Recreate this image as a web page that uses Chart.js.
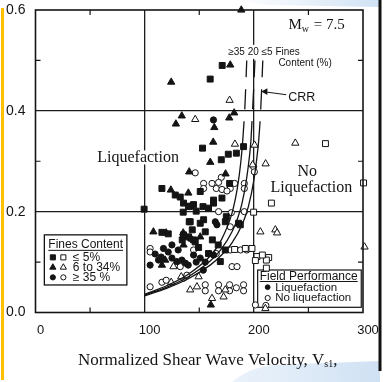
<!DOCTYPE html>
<html>
<head>
<meta charset="utf-8">
<script src="https://cdn.jsdelivr.net/npm/chart.js@4/dist/chart.umd.min.js"></script>
<style>
  html, body { margin: 0; padding: 0; background: #fff; overflow: hidden; }
  canvas { display: block; }
</style>
</head>
<body>
<canvas id="chart" width="385" height="382"></canvas>
<script>
// Case histories: [normalized shear wave velocity Vs1 (m/s), cyclic stress ratio]
// Fines content <= 5 %
const liqClean = [[171,0.49],[160,0.463],[190.6,0.329],[153,0.326],[176.6,0.314],[184,0.316],[170.2,0.303],
  [115.8,0.246],[128,0.233],[132.6,0.229],[99.5,0.205],[135.3,0.199],[141.7,0.211],[147.2,0.201],[140.8,0.18],
  [115.8,0.159],[121.6,0.156],[134.4,0.144],[177.8,0.256],[150.9,0.24],[170.8,0.227],[163.1,0.223],[135.6,0.217],
  [140.2,0.21],[144.8,0.214],[153.4,0.21],[158.5,0.207],[163.1,0.217],[174.8,0.19],[141.7,0.18],[150.9,0.177],
  [154,0.184],[173.9,0.18],[186,0.177],[135.6,0.154],[140.2,0.15],[144.8,0.144],[149.4,0.129],[146.3,0.14],
  [158.5,0.117],[169.3,0.101],[143.6,0.164],[155.5,0.16],[162,0.144],[167.4,0.134],[173.9,0.124],[187.6,0.174]];
const noLiqClean = [[265.6,0.335],[300.5,0.257],[216.1,0.217],[199.8,0.199],[182.4,0.125],[192.2,0.127],
  [198.3,0.127],[202.9,0.111],[213.6,0.109],[201.4,0.103],[211.5,0.104],[211.5,0.088],[207.8,0.114]];
// Fines content 6 to 34 %
const liqSilty = [[188.5,0.6],[124.3,0.457],[134,0.39],[128.6,0.374],[140.8,0.279],[178.4,0.491],[163.8,0.367],
  [177.5,0.386],[182,0.396],[162.8,0.338],[160.1,0.298],[174.1,0.275],[124,0.243],[140,0.237],[108,0.16],
  [119.7,0.158],[135.6,0.134],[118.8,0.104],[115.8,0.094],[135.3,0.158],[150.9,0.15],[160.6,0.015]];
const noLiqSilty = [[146.3,0.383],[177.8,0.421],[182.7,0.334],[200.7,0.332],[198.9,0.293],[210.8,0.295],
  [238,0.336],[206,0.16],[219.7,0.164],[221.3,0.158],[301.4,0.13],[149.4,0.071],[173.9,0.045],[161.7,0.028],
  [172.3,0.031],[126.4,0.091],[133.5,0.071],[141.7,0.045],[124.3,0.06],[210.6,0.008],[147.9,0.051]];
// Fines content >= 35 %
const liqSilt = [[163,0.382],[125,0.134],[117.2,0.127],[109.6,0.116],[115.1,0.11],[105,0.094],[112.7,0.104],
  [125,0.108],[129.5,0.101],[134.1,0.104],[137.2,0.098],[166.2,0.174],[141.7,0.147],[144.8,0.114],[150.9,0.108],
  [163.1,0.114],[164.7,0.18],[121.6,0.12],[130.7,0.124],[139.9,0.094],[147.2,0.1],[155.5,0.1],[153.7,0.084]];
const noLiqSilt = [[146.3,0.277],[170.2,0.268],[154,0.256],[161.7,0.256],[167.7,0.258],[182.4,0.256],
  [191.3,0.256],[154,0.246],[165.6,0.246],[170.8,0.244],[178.4,0.246],[191.3,0.246],[175.4,0.241],[199.8,0.289],
  [200.5,0.279],[179.4,0.198],[191.3,0.2],[167.7,0.2],[178.4,0.17],[144.8,0.124],[178.4,0.124],[165.6,0.117],
  [180,0.091],[184.6,0.091],[155.5,0.055],[155.5,0.043],[167.7,0.055],[167.7,0.043],[177.8,0.055],[177.8,0.043],
  [184,0.049],[190.6,0.055],[190.6,0.043],[201.4,0.015],[211,0.014],[105,0.127],[105,0.12],[105,0.051],
  [115.8,0.06],[119.7,0.064],[135.6,0.068],[138.7,0.074],[132.6,0.091],[187.8,0.124],[193.5,0.124]];

// CRR boundary curves for fines content >= 35 %, 20 % and <= 5 %
const crrFines35 = [[100,0.036],[120,0.053],[140,0.076],[160,0.112],[170,0.143],[180,0.197],[185,0.248],
  [188,0.297],[189.8,0.34],[192,0.417],[193.5,0.50]];
const crrFines20 = [[100,0.035],[120,0.050],[140,0.071],[160,0.102],[170,0.125],[180,0.160],[185,0.186],
  [189,0.215],[193,0.26],[196,0.31],[197.3,0.34],[198.8,0.40],[200.2,0.46],[201,0.50]];
const crrFines5 = [[100,0.033],[120,0.048],[140,0.067],[160,0.094],[170,0.113],[180,0.138],[190,0.178],
  [195,0.21],[200,0.262],[203,0.311],[204.4,0.34],[206,0.39],[207.3,0.45],[208.2,0.50]];

const xTickValues = [0, 100, 200, 300];
const yTickValues = [0.0, 0.2, 0.4, 0.6];

const INK = '#141414';
const SANS = '"Liberation Sans", Arial, sans-serif';
const SERIF = '"Liberation Serif", "Times New Roman", serif';

const toXY = arr => arr.map(([x, y]) => ({ x, y }));

function markers(label, data, style, filled, r) {
  return {
    label, data: toXY(data), showLine: false,
    pointStyle: style, pointRadius: r, pointHoverRadius: r,
    pointBackgroundColor: filled ? INK : '#fff',
    pointBorderColor: INK, pointBorderWidth: 1,
    clip: false, order: filled ? 2 : 3
  };
}
function boundary(label, data) {
  return {
    label, data: toXY(data), showLine: true, pointRadius: 0,
    borderColor: INK, borderWidth: 1.3, cubicInterpolationMode: 'monotone',
    fill: false, clip: false, order: 1,
    segment: { borderDash: c => (c.p0.parsed.y >= 0.339 ? [20, 12] : undefined) }
  };
}

const isMajorX = v => xTickValues.includes(v);
const isMajorY = v => yTickValues.some(t => Math.abs(t - v) < 1e-6);

const decor = {
  id: 'decor',
  beforeDraw(chart) {
    const ctx = chart.ctx;
    ctx.save();
    ctx.fillStyle = '#fff';
    ctx.fillRect(0, 0, chart.width, chart.height);
    // pale blue ribbons of the slide
    let g = ctx.createLinearGradient(230, 0, 385, 0);
    g.addColorStop(0, 'rgba(215,230,246,0)');
    g.addColorStop(1, 'rgba(205,224,244,1)');
    ctx.fillStyle = g;
    ctx.beginPath();
    ctx.moveTo(235, 0); ctx.lineTo(380, 0); ctx.lineTo(380, 7); ctx.lineTo(265, 5); ctx.closePath();
    ctx.fill();
    g = ctx.createLinearGradient(230, 0, 385, 0);
    g.addColorStop(0, 'rgba(220,233,247,0.6)');
    g.addColorStop(1, 'rgba(206,224,243,1)');
    ctx.fillStyle = g;
    ctx.beginPath();
    ctx.moveTo(232, 382); ctx.quadraticCurveTo(248, 368, 272, 365);
    ctx.lineTo(380, 361); ctx.lineTo(380, 382); ctx.closePath();
    ctx.fill();
    // yellow side bar
    ctx.fillStyle = '#FFC000';
    ctx.fillRect(1, 8, 3, 372);
    // dark right edge
    ctx.fillStyle = '#111';
    ctx.fillRect(378.5, 0, 3, 371);
    ctx.restore();
  },
  beforeDatasetsDraw(chart) {
    const ctx = chart.ctx;
    const xs = chart.scales.x, ys = chart.scales.y;
    const a = chart.chartArea;
    const X = v => xs.getPixelForValue(v), Y = v => ys.getPixelForValue(v);
    ctx.save();
    // inward minor ticks on all four sides
    ctx.strokeStyle = INK; ctx.lineWidth = 1.2;
    ctx.beginPath();
    [50, 150, 250].forEach(v => {
      const px = X(v);
      ctx.moveTo(px, a.bottom); ctx.lineTo(px, a.bottom - 5);
      ctx.moveTo(px, a.top); ctx.lineTo(px, a.top + 5);
    });
    [0.1, 0.3, 0.5].forEach(v => {
      const py = Y(v);
      ctx.moveTo(a.left, py); ctx.lineTo(a.left + 5, py);
      ctx.moveTo(a.right, py); ctx.lineTo(a.right - 5, py);
    });
    ctx.stroke();

    const label = (s, x, y, font, align, bg) => {
      ctx.font = font;
      ctx.textAlign = align || 'left';
      ctx.textBaseline = 'middle';
      if (bg) {
        const w = ctx.measureText(s).width;
        const left = align === 'center' ? x - w / 2 : x;
        ctx.fillStyle = '#fff';
        ctx.fillRect(left - 2, y - 7, w + 4, 14);
      }
      ctx.fillStyle = INK;
      ctx.fillText(s, x, y);
    };

    // region labels
    label('Liquefaction', X(94), Y(0.3075), '16px ' + SERIF, 'center', true);
    label('No', X(249), Y(0.279), '16px ' + SERIF, 'center');
    label('Liquefaction', X(252.7), Y(0.247), '16px ' + SERIF, 'center');

    // magnitude
    ctx.font = '15px ' + SERIF; ctx.textAlign = 'left'; ctx.textBaseline = 'middle'; ctx.fillStyle = INK;
    let mx = X(231.7); const my = Y(0.57);
    ctx.fillText('M', mx, my); mx += ctx.measureText('M').width;
    ctx.font = '10px ' + SERIF; ctx.fillText('w', mx, my + 4); mx += ctx.measureText('w').width + 1;
    ctx.font = '15px ' + SERIF; ctx.fillText(' = 7.5', mx, my);

    // curve labels
    label('\u226535 20 \u22645 Fines', X(176.6), Y(0.517), '10px ' + SANS, 'left', true);
    label('Content (%)', X(222.5), Y(0.495), '10px ' + SANS, 'left');
    label('CRR', X(231.5), Y(0.427), '12.5px ' + SANS, 'left');
    // arrow to the curves
    const tipX = X(206.9), tipY = Y(0.4385), tailX = X(229.6), tailY = Y(0.432);
    ctx.strokeStyle = INK; ctx.lineWidth = 1;
    ctx.beginPath(); ctx.moveTo(tailX, tailY); ctx.lineTo(tipX + 4, tipY + 0.5); ctx.stroke();
    ctx.fillStyle = INK;
    ctx.beginPath(); ctx.moveTo(tipX, tipY); ctx.lineTo(tipX + 6, tipY - 3.2); ctx.lineTo(tipX + 6, tipY + 3.6); ctx.closePath(); ctx.fill();

    const sym = (style, filled, r, x, y) => {
      ctx.fillStyle = filled ? INK : '#fff';
      ctx.strokeStyle = INK;
      Chart.helpers.drawPoint(ctx, { pointStyle: style, radius: r, rotation: 0, borderWidth: 1 }, x, y);
    };

    // fines content key
    const b1l = X(8.1), b1t = Y(0.154), b1r = X(83.7), b1b = Y(0.0546);
    ctx.fillStyle = '#fff'; ctx.fillRect(b1l, b1t, b1r - b1l, b1b - b1t);
    ctx.strokeStyle = INK; ctx.lineWidth = 1.3; ctx.strokeRect(b1l, b1t, b1r - b1l, b1b - b1t);
    label('Fines Content', b1l + 4, b1t + 9.5, '12px ' + SANS, 'left');
    ctx.font = '12px ' + SANS;
    let w = ctx.measureText('Fines Content').width;
    ctx.lineWidth = 1; ctx.beginPath(); ctx.moveTo(b1l + 4, b1t + 15.5); ctx.lineTo(b1l + 4 + w, b1t + 15.5); ctx.stroke();
    const rows = [['rect', '\u2264 5%'], ['triangle', '6 to 34%'], ['circle', '\u2265 35 %']];
    rows.forEach(([st, s], i) => {
      const y = b1t + 22.5 + i * 10;
      sym(st, true, st === 'circle' ? 2.6 : 3.6, b1l + 8.5, y);
      sym(st, false, st === 'circle' ? 2.6 : 3.6, b1l + 19, y);
      label(s, b1l + 28.5, y, '12px ' + SANS, 'left');
    });

    // field performance key
    const b2l = X(203.5), b2t = Y(0.0843), b2r = X(298.4), b2b = Y(0.0103);
    ctx.fillStyle = '#fff'; ctx.fillRect(b2l, b2t, b2r - b2l, b2b - b2t);
    ctx.strokeStyle = INK; ctx.lineWidth = 1.2; ctx.strokeRect(b2l, b2t, b2r - b2l, b2b - b2t);
    label('Field Performance', b2l + 2, b2t + 6.5, '12px ' + SANS, 'left');
    ctx.font = '12px ' + SANS;
    w = ctx.measureText('Field Performance').width;
    ctx.lineWidth = 1; ctx.beginPath(); ctx.moveTo(b2l + 2, b2t + 11.5); ctx.lineTo(b2l + 2 + w, b2t + 11.5); ctx.stroke();
    sym('circle', true, 2.4, b2l + 10, b2t + 17.2);
    label('Liquefaction', b2l + 17.5, b2t + 17.5, '11.5px ' + SANS, 'left');
    sym('circle', false, 2.6, b2l + 10, b2t + 28);
    label('No liquefaction', b2l + 17.5, b2t + 28.2, '11.5px ' + SANS, 'left');
    ctx.restore();
  },
  afterDatasetsDraw(chart) {
    const ctx = chart.ctx, a = chart.chartArea;
    ctx.save();
    ctx.strokeStyle = INK; ctx.lineWidth = 1.6;
    ctx.strokeRect(a.left, a.top, a.right - a.left, a.bottom - a.top);
    ctx.restore();
  },
  afterDraw(chart) {
    const ctx = chart.ctx;
    ctx.save();
    ctx.fillStyle = INK; ctx.textBaseline = 'alphabetic'; ctx.textAlign = 'left';
    let x = 78; const y = 365;
    ctx.font = '17px ' + SERIF;
    const main = 'Normalized Shear Wave Velocity, V';
    ctx.fillText(main, x, y); x += ctx.measureText(main).width;
    ctx.font = '10px ' + SERIF;
    ctx.fillText('s1', x, y + 2); x += ctx.measureText('s1').width;
    ctx.font = '17px ' + SERIF;
    ctx.fillText(',', x, y);
    ctx.restore();
  }
};

// fixed axis sizes so the plot frame sits at the same place every time
function fixScale(size, vertical) {
  return s => {
    if (vertical) s.width = size; else s.height = size;
    s.paddingTop = 0; s.paddingBottom = 0; s.paddingLeft = 0; s.paddingRight = 0;
  };
}

new Chart(document.getElementById('chart'), {
  type: 'scatter',
  data: {
    datasets: [
      boundary('CRR, fines \u2265 35 %', crrFines35),
      boundary('CRR, fines 20 %', crrFines20),
      boundary('CRR, fines \u2264 5 %', crrFines5),
      markers('Liquefaction, fines \u2264 5 %', liqClean, 'rect', true, 4.2),
      markers('No liquefaction, fines \u2264 5 %', noLiqClean, 'rect', false, 4.2),
      markers('Liquefaction, fines 6 to 34 %', liqSilty, 'triangle', true, 4.2),
      markers('No liquefaction, fines 6 to 34 %', noLiqSilty, 'triangle', false, 4.2),
      markers('Liquefaction, fines \u2265 35 %', liqSilt, 'circle', true, 3.1),
      markers('No liquefaction, fines \u2265 35 %', noLiqSilt, 'circle', false, 3.1)
    ]
  },
  options: {
    responsive: false,
    devicePixelRatio: 1,
    animation: false,
    events: [],
    layout: { autoPadding: false, padding: { left: 0, top: 10, right: 22, bottom: 0 } },
    plugins: { legend: { display: false }, tooltip: { enabled: false } },
    scales: {
      x: {
        type: 'linear', min: 0, max: 300,
        border: { display: false },
        grid: {
          drawTicks: false, lineWidth: 1.3,
          color: c => (c.tick && (c.tick.value === 100 || c.tick.value === 200) ? '#1c1c1c' : 'rgba(0,0,0,0)')
        },
        ticks: {
          stepSize: 50, autoSkip: false, maxRotation: 0, padding: 10, labelOffset: 5,
          color: INK, font: { family: SANS, size: 13 },
          callback: v => (isMajorX(v) ? String(v) : '')
        },
        afterFit: fixScale(69.5, false)
      },
      y: {
        type: 'linear', min: 0, max: 0.6,
        border: { display: false },
        grid: {
          drawTicks: false, lineWidth: 1.3,
          color: c => {
            const v = c.tick ? Math.round(c.tick.value * 10) : -1;
            return (v === 2 || v === 4) ? '#1c1c1c' : 'rgba(0,0,0,0)';
          }
        },
        ticks: {
          stepSize: 0.1, autoSkip: false, padding: 10,
          color: INK, font: { family: SANS, size: 14 },
          callback: v => (isMajorY(v) ? (Math.round(v * 10) / 10).toFixed(1) : '')
        },
        afterFit: fixScale(35.5, true)
      }
    }
  },
  plugins: [decor]
});
</script>
</body>
</html>
